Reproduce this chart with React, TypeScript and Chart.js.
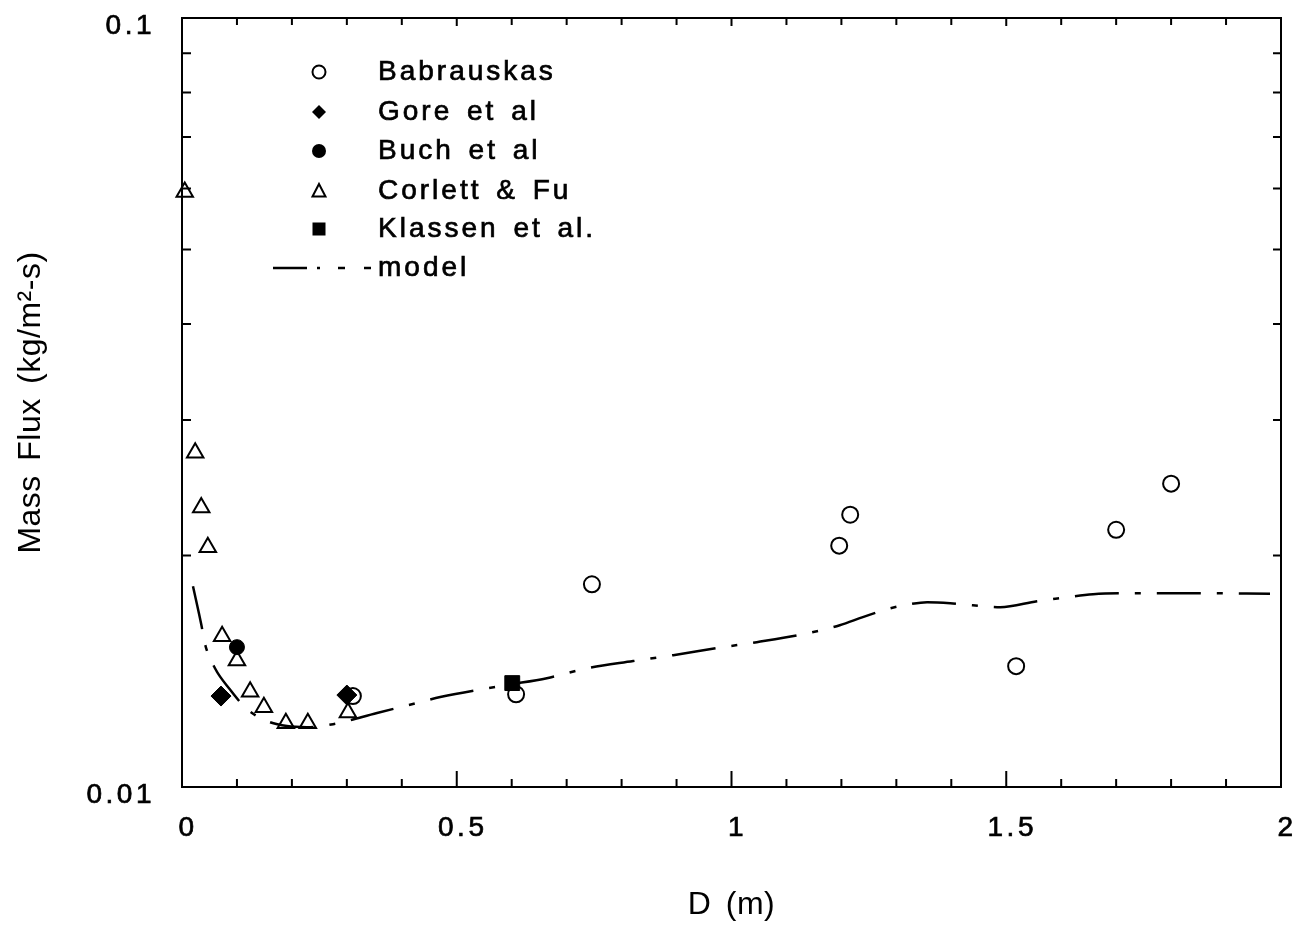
import React, { useEffect, useRef } from 'react';
import { Chart, registerables } from 'chart.js';

Chart.register(...registerables);

// ---- data ----
const babrauskasD = [0.311, 0.608, 0.746, 1.196, 1.216, 1.518, 1.70, 1.80];
const babrauskasFlux = [0.01313, 0.0132, 0.01835, 0.0206, 0.0226, 0.01436, 0.0216, 0.0248];

const goreD = [0.071, 0.300];
const goreFlux = [0.01313, 0.01317];

const buchD = [0.100];
const buchFlux = [0.0152];

const corlettD = [0.005, 0.024, 0.035, 0.047, 0.073, 0.100, 0.124, 0.149, 0.189, 0.229, 0.302];
const corlettFlux = [0.0594, 0.0272, 0.0231, 0.0205, 0.0157, 0.0146, 0.0133, 0.0127, 0.0121, 0.0121, 0.0125];

const klassenD = [0.601];
const klassenFlux = [0.01365];

const modelD = [0.02, 0.035, 0.042, 0.06, 0.087, 0.118, 0.155, 0.191, 0.227, 0.275, 0.355, 0.433, 0.47, 0.591, 0.664, 0.737, 0.821, 0.894, 0.974, 1.046, 1.13, 1.197, 1.239, 1.283, 1.325, 1.356, 1.398, 1.439, 1.489, 1.556, 1.598, 1.658, 1.712, 1.792, 1.865, 1.98];
const modelFlux = [0.01824, 0.01628, 0.01533, 0.01427, 0.0134, 0.01263, 0.01218, 0.012, 0.01196, 0.01207, 0.01248, 0.01289, 0.01309, 0.01357, 0.01385, 0.01427, 0.01458, 0.01484, 0.01516, 0.01543, 0.0158, 0.01623, 0.01663, 0.01703, 0.01729, 0.01739, 0.01734, 0.01723, 0.01713, 0.01744, 0.0176, 0.01781, 0.01786, 0.01786, 0.01786, 0.01783];

const xLabelValues = [0, 0.5, 1, 1.5, 2];
const xLabelText = ['0', '0.5', '1', '1.5', '2'];
const xMinorTickValues = [0.1, 0.2, 0.3, 0.4, 0.6, 0.7, 0.8, 0.9, 1.1, 1.2, 1.3, 1.4, 1.6, 1.7, 1.8, 1.9];
const yLabelValues = [0.01, 0.1];
const yLabelText = ['0.01', '0.1'];
const yMinorTickValues = [0.02, 0.03, 0.04, 0.05, 0.06, 0.07, 0.08, 0.09];

const legendLabels = ['Babrauskas', 'Gore et al', 'Buch et al', 'Corlett & Fu', 'Klassen et al.', 'model'];

const FONT = '"Liberation Sans", Arial, Helvetica, sans-serif';

const toPts = (xs: number[], ys: number[]) => xs.map((x, i) => ({ x, y: ys[i] }));

const framePlugin = {
  id: 'frameTicksLegend',
  beforeDraw(chart: any) {
    const ctx = chart.ctx;
    ctx.letterSpacing = '0.5px';
    ctx.wordSpacing = '5px';
  },
  beforeDatasetsDraw(chart: any) {
    const { ctx, chartArea: a, scales } = chart;
    const xs = scales.x;
    const ys = scales.y;
    ctx.save();
    ctx.strokeStyle = '#000';
    ctx.lineWidth = 2;
    ctx.setLineDash([]);
    ctx.strokeRect(a.left, a.top, a.right - a.left, a.bottom - a.top);
    ctx.beginPath();
    xLabelValues.forEach((v) => {
      const px = xs.getPixelForValue(v);
      ctx.moveTo(px, a.bottom);
      ctx.lineTo(px, a.bottom - 16);
      ctx.moveTo(px, a.top);
      ctx.lineTo(px, a.top + 8);
    });
    xMinorTickValues.forEach((v) => {
      const px = xs.getPixelForValue(v);
      ctx.moveTo(px, a.bottom);
      ctx.lineTo(px, a.bottom - 8);
      ctx.moveTo(px, a.top);
      ctx.lineTo(px, a.top + 7);
    });
    yMinorTickValues.forEach((v) => {
      const py = ys.getPixelForValue(v);
      ctx.moveTo(a.left, py);
      ctx.lineTo(a.left + 9, py);
      ctx.moveTo(a.right, py);
      ctx.lineTo(a.right - 8, py);
    });
    ctx.stroke();
    ctx.restore();
    ctx.letterSpacing = '3.5px';
    ctx.wordSpacing = '0px';
  },
  afterDraw(chart: any) {
    const ctx = chart.ctx;
    const rows = [72, 112, 151, 191, 229, 268];
    const sx = 319;
    const tx = 378;
    ctx.save();
    ctx.strokeStyle = '#000';
    ctx.fillStyle = '#000';
    ctx.lineWidth = 2;
    // open circle
    ctx.beginPath();
    ctx.arc(sx, rows[0], 6.5, 0, Math.PI * 2);
    ctx.stroke();
    // diamond
    ctx.beginPath();
    ctx.moveTo(sx, rows[1] - 7);
    ctx.lineTo(sx + 7, rows[1]);
    ctx.lineTo(sx, rows[1] + 7);
    ctx.lineTo(sx - 7, rows[1]);
    ctx.closePath();
    ctx.fill();
    // filled circle
    ctx.beginPath();
    ctx.arc(sx, rows[2], 7, 0, Math.PI * 2);
    ctx.fill();
    // open triangle
    ctx.beginPath();
    ctx.moveTo(sx, rows[3] - 7);
    ctx.lineTo(sx + 6.5, rows[3] + 5.5);
    ctx.lineTo(sx - 6.5, rows[3] + 5.5);
    ctx.closePath();
    ctx.stroke();
    // filled square
    ctx.fillRect(sx - 6.5, rows[4] - 6.5, 13, 13);
    // model line sample
    ctx.lineWidth = 2.5;
    ctx.beginPath();
    ctx.moveTo(273, rows[5]);
    ctx.lineTo(307, rows[5]);
    ctx.moveTo(317, rows[5]);
    ctx.lineTo(320, rows[5]);
    ctx.moveTo(338, rows[5]);
    ctx.lineTo(345, rows[5]);
    ctx.moveTo(364, rows[5]);
    ctx.lineTo(371, rows[5]);
    ctx.stroke();
    // texts
    ctx.letterSpacing = '3px';
    ctx.wordSpacing = '4px';
    ctx.font = `28px ${FONT}`;
    ctx.textBaseline = 'middle';
    ctx.textAlign = 'left';
    ctx.lineWidth = 0.7;
    legendLabels.forEach((t, i) => {
      ctx.fillText(t, tx, rows[i]);
      ctx.strokeText(t, tx, rows[i]);
    });
    ctx.restore();
    ctx.letterSpacing = '0px';
    ctx.wordSpacing = '0px';
  },
};

export default function App() {
  const ref = useRef<HTMLCanvasElement | null>(null);

  useEffect(() => {
    if (!ref.current) return;
    Chart.defaults.font.family = FONT;
    Chart.defaults.color = '#000';
    const chart = new Chart(ref.current, {
      type: 'scatter',
      data: {
        datasets: [
          {
            label: 'Gore et al',
            data: toPts(goreD, goreFlux),
            pointStyle: 'rectRot',
            pointRadius: 10,
            borderWidth: 1,
            borderColor: '#000',
            backgroundColor: '#000',
            clip: false,
          },
          {
            label: 'Buch et al',
            data: toPts(buchD, buchFlux),
            pointStyle: 'circle',
            pointRadius: 7.5,
            borderWidth: 1,
            borderColor: '#000',
            backgroundColor: '#000',
            clip: false,
          },
          {
            label: 'Klassen et al.',
            data: toPts(klassenD, klassenFlux),
            pointStyle: 'rect',
            pointRadius: 10.5,
            borderWidth: 1,
            borderColor: '#000',
            backgroundColor: '#000',
            clip: false,
          },
          {
            label: 'Corlett & Fu',
            data: toPts(corlettD, corlettFlux),
            pointStyle: 'triangle',
            pointRadius: 9.5,
            borderWidth: 2,
            borderColor: '#000',
            backgroundColor: 'rgba(255,255,255,0)',
            clip: false,
          },
          {
            label: 'Babrauskas',
            data: toPts(babrauskasD, babrauskasFlux),
            pointStyle: 'circle',
            pointRadius: 8,
            borderWidth: 2,
            borderColor: '#000',
            backgroundColor: 'rgba(255,255,255,0)',
            clip: false,
          },
          {
            label: 'model',
            data: toPts(modelD, modelFlux),
            showLine: true,
            pointRadius: 0,
            borderColor: '#000',
            borderWidth: 2.5,
            borderDash: [44, 16, 6, 16],
            cubicInterpolationMode: 'monotone',
            fill: false,
          },
        ],
      },
      options: {
        animation: false,
        responsive: true,
        maintainAspectRatio: false,
        layout: { padding: { top: 18, right: 31, left: 0, bottom: 0 } },
        plugins: {
          legend: { display: false },
          tooltip: { enabled: false },
        },
        scales: {
          x: {
            type: 'linear',
            min: 0,
            max: 2,
            grid: { display: false, drawTicks: false },
            border: { display: false },
            afterBuildTicks: (scale: any) => {
              scale.ticks = xLabelValues.map((v) => ({ value: v }));
            },
            afterFit: (scale: any) => {
              scale.height = 142;
              scale.paddingLeft = 0;
              scale.paddingRight = 0;
              scale.paddingTop = 0;
              scale.paddingBottom = 0;
            },
            ticks: {
              z: 1,
              autoSkip: false,
              maxRotation: 0,
              padding: 24,
              labelOffset: 6,
              color: '#000',
              textStrokeColor: '#000',
              textStrokeWidth: 0.7,
              font: { size: 28, family: FONT },
              callback: (_v: any, i: number) => xLabelText[i],
            },
            title: {
              display: true,
              text: 'D (m)',
              color: '#000',
              font: { size: 32, family: FONT },
              padding: { top: 0, bottom: 5 },
            },
          },
          y: {
            type: 'logarithmic',
            min: 0.01,
            max: 0.1,
            grid: { display: false, drawTicks: false },
            border: { display: false },
            afterBuildTicks: (scale: any) => {
              scale.ticks = yLabelValues.map((v) => ({ value: v }));
            },
            afterFit: (scale: any) => {
              scale.width = 182;
              scale.paddingLeft = 0;
              scale.paddingRight = 0;
              scale.paddingTop = 0;
              scale.paddingBottom = 0;
            },
            ticks: {
              z: 1,
              autoSkip: false,
              padding: 27,
              labelOffset: 8,
              color: '#000',
              textStrokeColor: '#000',
              textStrokeWidth: 0.7,
              font: { size: 28, family: FONT },
              callback: (_v: any, i: number) => yLabelText[i],
            },
            title: {
              display: true,
              text: 'Mass Flux (kg/m²-s)',
              color: '#000',
              font: { size: 32, family: FONT },
              padding: { top: 12, bottom: 0 },
            },
          },
        },
      },
      plugins: [framePlugin],
    } as any);
    return () => chart.destroy();
  }, []);

  return (
    <div style={{ position: 'fixed', left: 0, top: 0, width: 1312, height: 929, background: '#fff' }}>
      <canvas ref={ref} />
    </div>
  );
}
